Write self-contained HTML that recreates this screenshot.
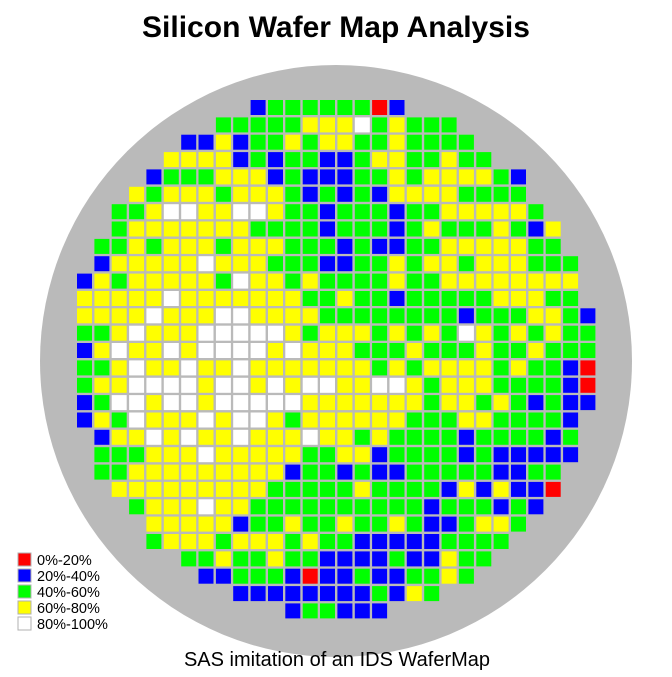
<!DOCTYPE html>
<html><head><meta charset="utf-8"><style>
html,body{margin:0;padding:0;background:#fff;}
svg text{font-family:"Liberation Sans",Arial,sans-serif;}
</style></head><body>
<svg id="chart" width="672" height="672" viewBox="0 0 672 672" xmlns="http://www.w3.org/2000/svg">
<text x="336" y="37" text-anchor="middle" font-size="30" font-weight="bold" fill="#000">Silicon Wafer Map Analysis</text>
<circle cx="336" cy="361" r="296" fill="#bababa"/>
<g id="cells"></g>
<g id="legend"></g>
<text x="337" y="666" text-anchor="middle" font-size="20" fill="#000">SAS imitation of an IDS WaferMap</text>
</svg>
<script>
// die yield categories per row: R=0-20%, B=20-40%, G=40-60%, Y=60-80%, W=80-100%
const rowStart = [10,8,6,5,4,3,2,2,1,1,0,0,0,0,0,0,0,0,0,1,1,1,2,3,4,4,6,7,9,12];
const rowCells = [
"BGGGGGGRB",
"GGGGGYYYWGYGGG",
"BBYBGGYGYYGGYGGGG",
"YYYYBGBGGBBGYYGGYGG",
"BGGGYYYBGBBBGGYGYYYYGB",
"YGYYYGYYYGBGBGBYYYYGGGG",
"GGYWWYYWWYGGBGGGBGGYYYYYG",
"GYYYYYYYGGGGBGGGBGYGGGYGBY",
"GGYGYYYGYYYGGGBGBBGGYYYYYGG",
"BYYYYYWYYYGGGBBGGYGYYGYYYGGG",
"BYGYYYYYGWYYGYGGGGYGGYYYYYYYY",
"YYYYYWYYYYYYYGGYGGBGGGGGYYYGG",
"YYYYWYYYWWYYYYGGGGGGGGBGGGYYGB",
"GGYWYYYWWWWWYGYYYGYGYGWYGYGYGG",
"BYWYYWYWWWWYWYYYGGGYGGGYGGYGGG",
"GGYWYYWYYWYYYYYYYGYGYYYYGYGGBR",
"GYYWWWWYWWYWYWWYYWWYGYYYGGGGBR",
"BGWWYWWYWWWWWYYYYYYYGYYGYGBGBB",
"BYGWYYYWYWWYGYYYYYYGGGYYGGGGB",
"BYYWYWYYWYYYWYYGYGGGGBGGGGBG",
"GGGYYYWYYYYYGGYYBGGGGBGBBBBB",
"GGYYYYYYYYYBGGBGBBGGGGGBBGG",
"YYYYYYYYYGGGGGYGGGGBYBYBBR",
"GYYYWYYGGGGGGGGGGBGGGBGB",
"YYYYYBGGYGGYGGYGBBGYYG",
"GYYYGYYYGYGGBBBBBGGGG",
"GGYGGYGGBBBBGBBYGG",
"BBGGGBRBBGBBGGYG",
"BBBBBBBBGBYG",
"BGGBBB"
];
const categoryCodes = ["R","B","G","Y","W"];
const categoryLabels = ["0%-20%","20%-40%","40%-60%","60%-80%","80%-100%"];
const categoryColors = ["#ff0000","#0000ff","#00ff00","#ffff00","#ffffff"];

const NS = "http://www.w3.org/2000/svg";
const x0 = 77, y0 = 100, pitch = 17.36, size = 15;
function xPos(c){ return x0 + c * pitch; }
function yPos(r){ return y0 + r * pitch; }
const g = document.getElementById("cells");
rowCells.forEach((row, r) => {
  for (let i = 0; i < row.length; i++) {
    const c = rowStart[r] + i;
    const k = categoryCodes.indexOf(row[i]);
    const rect = document.createElementNS(NS, "rect");
    rect.setAttribute("x", xPos(c).toFixed(1));
    rect.setAttribute("y", yPos(r).toFixed(1));
    rect.setAttribute("width", size);
    rect.setAttribute("height", size);
    rect.setAttribute("fill", categoryColors[k]);
    
    
    g.appendChild(rect);
  }
});
const lg = document.getElementById("legend");
categoryLabels.forEach((lab, i) => {
  const y = 553 + i * 16;
  const b = document.createElementNS(NS, "rect");
  b.setAttribute("x", 18); b.setAttribute("y", y);
  b.setAttribute("width", 13); b.setAttribute("height", 13);
  b.setAttribute("fill", categoryColors[i]);
  b.setAttribute("stroke", "#b0b0b0"); b.setAttribute("stroke-width", "1");
  
  
  lg.appendChild(b);
  const t = document.createElementNS(NS, "text");
  t.setAttribute("x", 37); t.setAttribute("y", y + 12);
  t.setAttribute("font-size", "14.5"); t.setAttribute("fill", "#000");
  t.textContent = lab;
  
  
  lg.appendChild(t);
});
</script>
</body></html>
